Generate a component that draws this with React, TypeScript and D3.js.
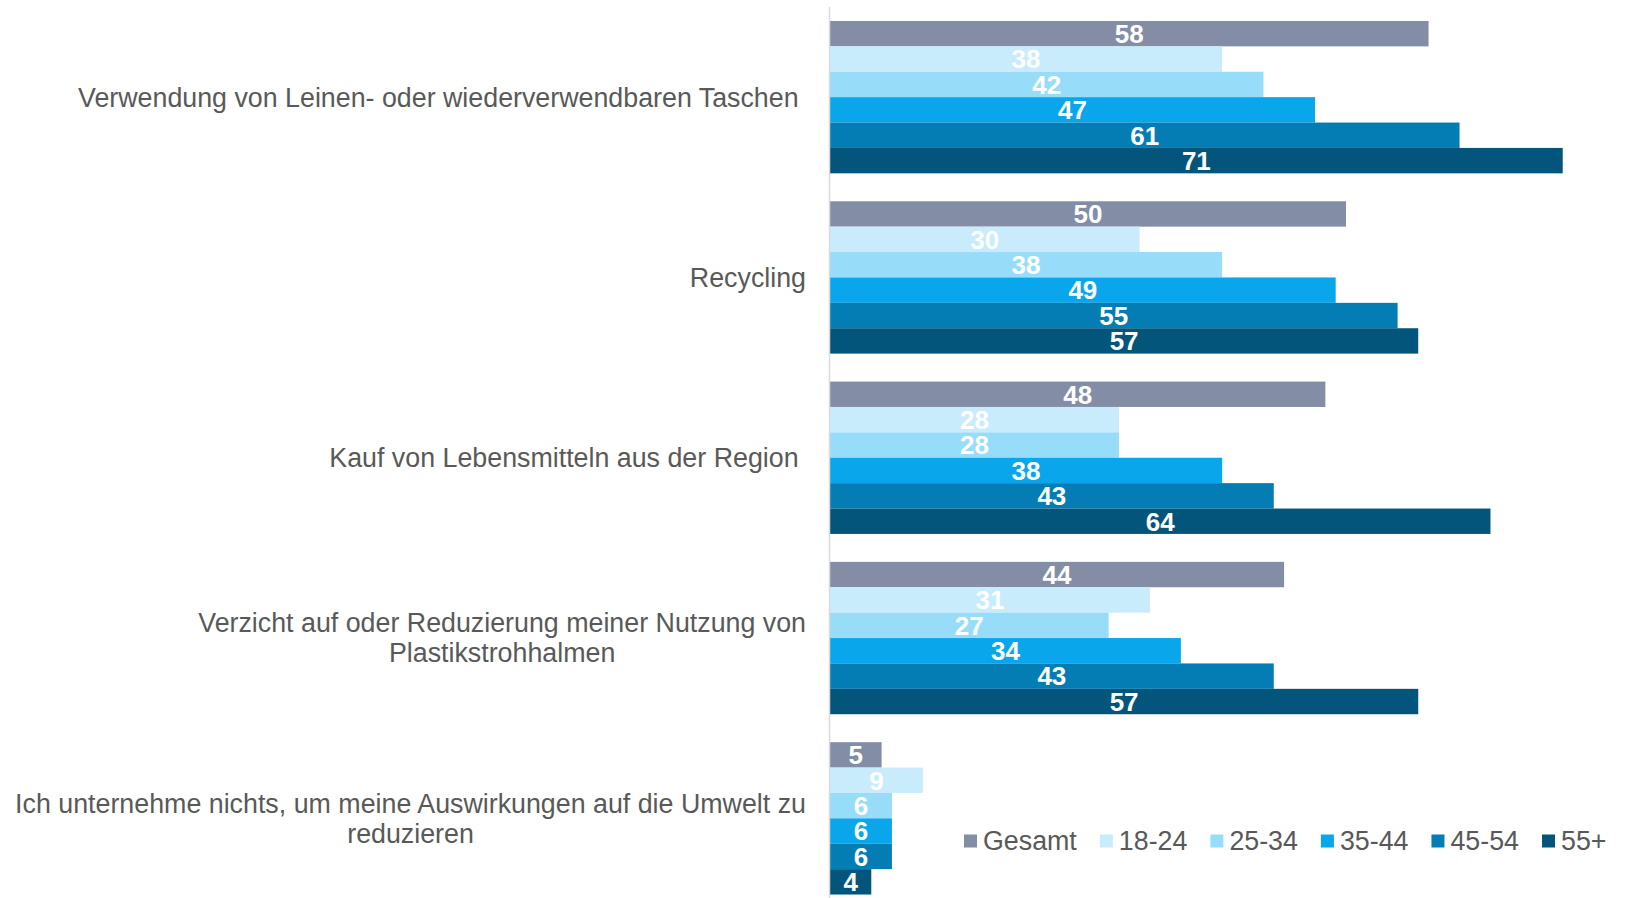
import React, { useRef, useEffect } from 'react';
import * as d3 from 'd3';

const categories: string[][] = [
  ['Verwendung von Leinen- oder wiederverwendbaren Taschen '],
  ['Recycling'],
  ['Kauf von Lebensmitteln aus der Region '],
  ['Verzicht auf oder Reduzierung meiner Nutzung von', 'Plastikstrohhalmen'],
  ['Ich unternehme nichts, um meine Auswirkungen auf die Umwelt zu', 'reduzieren'],
];

const seriesNames = ['Gesamt', '18-24', '25-34', '35-44', '45-54', '55+'];
const seriesColors = ['#838ea6', '#c9ecfc', '#97ddfa', '#0aa6ec', '#047db4', '#03557b'];

const gesamt = [58, 50, 48, 44, 5];
const age1824 = [38, 30, 28, 31, 9];
const age2534 = [42, 38, 28, 27, 6];
const age3544 = [47, 49, 38, 34, 6];
const age4554 = [61, 55, 43, 43, 6];
const age55 = [71, 57, 64, 57, 4];

const seriesValues = [gesamt, age1824, age2534, age3544, age4554, age55];

const W = 1635;
const H = 898;
const FONT = '"Liberation Sans", Arial, sans-serif';

export default function App() {
  const svgRef = useRef<SVGSVGElement>(null);

  useEffect(() => {
    if (!svgRef.current) return;
    const svg = d3.select(svgRef.current);
    svg.selectAll('*').remove();

    const x0 = 830;
    const x = d3.scaleLinear().domain([0, 80]).range([x0, x0 + 80 * 10.32]);

    const catKeys = categories.map((c, i) => String(i));
    const y = d3.scaleBand<string>()
      .domain(catKeys)
      .range([7, 908.5])
      .paddingInner(0.155)
      .paddingOuter(0.0775);

    const inner = d3.scaleBand<string>()
      .domain(seriesNames)
      .range([0, y.bandwidth()]);

    // bars
    const groups = svg.append('g').selectAll('g.cat')
      .data(catKeys)
      .enter()
      .append('g')
      .attr('class', 'cat')
      .attr('transform', d => `translate(0,${y(d)})`);

    groups.each(function (key) {
      const ci = +key;
      const g = d3.select(this);
      seriesNames.forEach((s, si) => {
        const v = seriesValues[si][ci];
        g.append('rect')
          .attr('x', x(0))
          .attr('y', inner(s)!)
          .attr('width', x(v) - x(0))
          .attr('height', inner.bandwidth())
          .attr('fill', seriesColors[si]);
        g.append('text')
          .attr('x', (x(0) + x(v)) / 2)
          .attr('y', inner(s)! + inner.bandwidth() / 2)
          .attr('dy', '0.36em')
          .attr('text-anchor', 'middle')
          .attr('fill', '#ffffff')
          .style('font-family', FONT)
          .style('font-weight', 'bold')
          .style('font-size', '26px')
          .text(v);
      });
    });

    // axis line
    svg.append('line')
      .attr('x1', x(0) - 0.5)
      .attr('x2', x(0) - 0.5)
      .attr('y1', 7)
      .attr('y2', H)
      .attr('stroke', '#d9d9d9')
      .attr('stroke-width', 1.5);

    // category labels
    const rightEdge = 806;
    const lineH = 30;
    categories.forEach((lines, ci) => {
      const cy = y(String(ci))! + y.bandwidth() / 2;
      const t = svg.append('g');
      const texts = lines.map((ln, li) =>
        t.append('text')
          .attr('y', cy + (li - (lines.length - 1) / 2) * lineH)
          .attr('dy', '0.35em')
          .attr('text-anchor', 'middle')
          .attr('fill', '#595959')
          .style('font-family', FONT)
          .style('font-size', '26.8px')
          .style('white-space', 'pre')
          .text(ln)
      );
      const maxW = d3.max(texts, tx => (tx.node() as SVGTextElement).getComputedTextLength()) || 0;
      texts.forEach(tx => tx.attr('x', rightEdge - maxW / 2));
    });

    // legend
    const legend = svg.append('g').attr('transform', 'translate(964,841)');
    let lx = 0;
    seriesNames.forEach((s, si) => {
      legend.append('rect')
        .attr('x', lx)
        .attr('y', -6.5)
        .attr('width', 13)
        .attr('height', 13)
        .attr('fill', seriesColors[si]);
      const tx = legend.append('text')
        .attr('x', lx + 19)
        .attr('y', 0)
        .attr('dy', '0.35em')
        .attr('fill', '#595959')
        .style('font-family', FONT)
        .style('font-size', '26.8px')
        .text(s);
      const w = (tx.node() as SVGTextElement).getComputedTextLength();
      lx += 19 + w + 23;
    });
  }, []);

  return (
    <svg
      ref={svgRef}
      width={W}
      height={H}
      style={{ position: 'absolute', left: 0, top: 0, background: '#ffffff' }}
    />
  );
}
